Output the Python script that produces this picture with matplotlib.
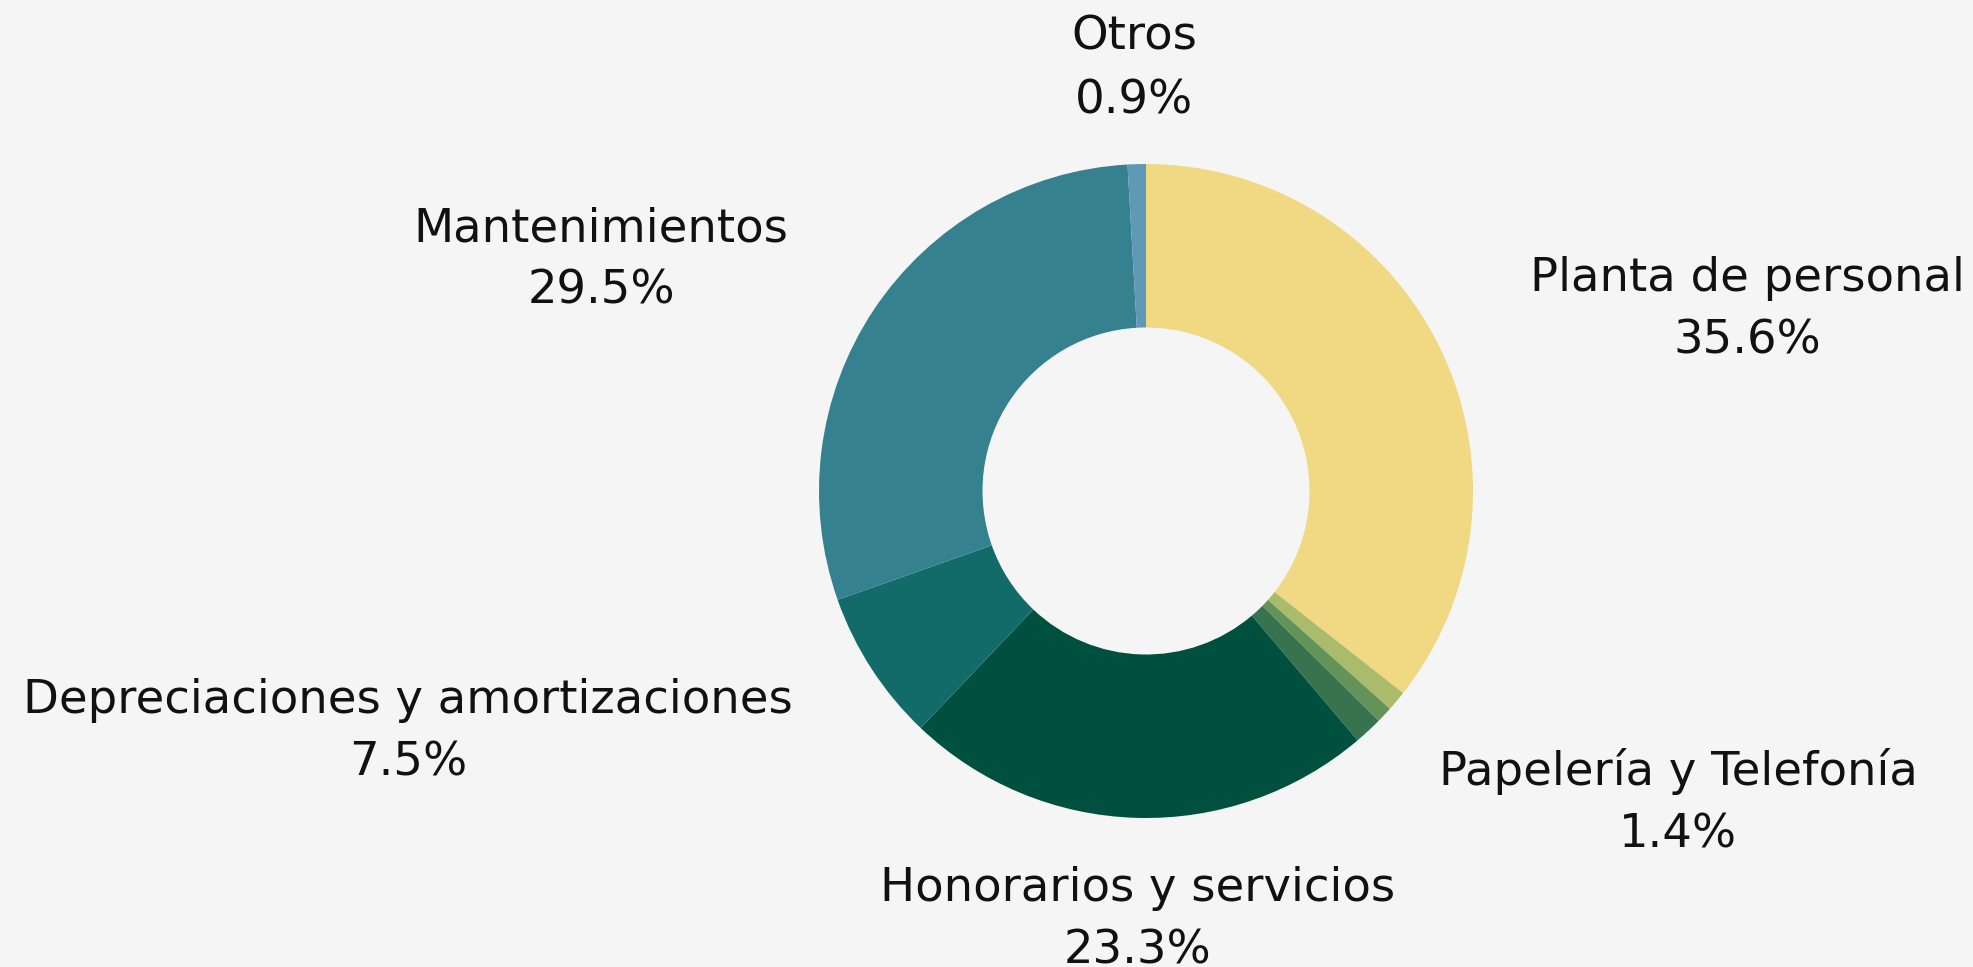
import matplotlib
matplotlib.use("Agg")
import matplotlib.pyplot as plt

# ---- data ----
categories = ["Planta de personal", "Sin etiqueta A", "Sin etiqueta B",
              "Papelería y Telefonía", "Honorarios y servicios",
              "Depreciaciones y amortizaciones", "Mantenimientos", "Otros"]
values = [35.6, 1.0, 0.8, 1.4, 23.3, 7.5, 29.5, 0.9]
show_label = [True, False, False, True, True, True, True, True]
colors = ["#f0d982", "#abbb6c", "#64935a", "#37734f", "#00503f",
          "#126a69", "#358190", "#5e9ab6"]

# ---- layout (pixel positions of label centres / baselines) ----
W, H = 1974, 967
label_pos = {
    "Planta de personal": (1747, 291, 353),
    "Papelería y Telefonía": (1678, 785, 848),
    "Honorarios y servicios": (1138, 901, 963),
    "Depreciaciones y amortizaciones": (408, 713, 775),
    "Mantenimientos": (601, 241, 304),
    "Otros": (1134, 50, 114),
}
cx, cy, R = 1146, 491, 327
bg = "#f5f5f5"

plt.rcParams['font.family'] = ['DejaVu Sans']
fig = plt.figure(figsize=(W / 100, H / 100), dpi=100, facecolor=bg)
ax = fig.add_axes([(cx - R) / W, (H - cy - R) / H, 2 * R / W, 2 * R / H])
ax.set_facecolor(bg)
ax.pie(values, colors=colors, startangle=90, counterclock=False, radius=1.0,
       wedgeprops=dict(width=0.5, linewidth=0))
ax.set_xlim(-1, 1)
ax.set_ylim(-1, 1)
ax.set_aspect('equal')
ax.axis('off')

fs = 33.5
for name, val, show in zip(categories, values, show_label):
    if not show:
        continue
    x, b1, b2 = label_pos[name]
    fig.text(x / W, 1 - b1 / H, name, ha='center', va='baseline',
             fontsize=fs, color='#111111')
    fig.text(x / W, 1 - b2 / H, f"{val:.1f}%", ha='center', va='baseline',
             fontsize=fs, color='#111111')

fig.savefig("out.png", dpi=100, facecolor=bg)
